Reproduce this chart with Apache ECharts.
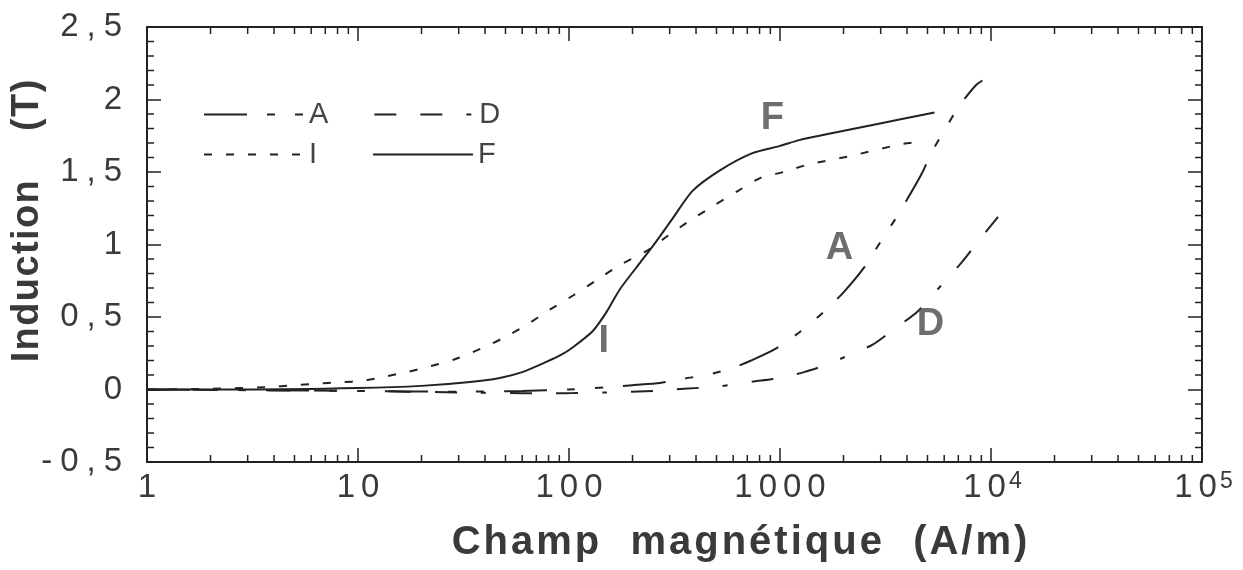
<!DOCTYPE html>
<html>
<head>
<meta charset="utf-8">
<title>Induction</title>
<script src="https://cdn.jsdelivr.net/npm/echarts@6/dist/echarts.min.js"></script>
<style>
html, body { margin: 0; padding: 0; background: #fff; }
#main { width: 1243px; height: 570px; }
</style>
</head>
<body>
<div id="main"></div>
<script>
// courbes B(H) (H en A/m, B en T)
var aH = [1, 10, 30, 60, 100, 150, 200, 270, 350, 450, 600, 730, 950, 1250, 1600, 2000, 2500, 3000, 3500, 4000, 4700, 5300, 6200, 7100, 8500, 9100];
var aB = [0, -0.01, -0.015, -0.01, 0, 0.015, 0.03, 0.045, 0.075, 0.10, 0.15, 0.20, 0.28, 0.40, 0.53, 0.67, 0.84, 1.02, 1.17, 1.31, 1.49, 1.65, 1.82, 1.96, 2.10, 2.13];

var dH = [1, 10, 30, 60, 100, 150, 250, 350, 500, 750, 1000, 1300, 1650, 2150, 2750, 3500, 4500, 5900, 7300, 8900, 10800];
var dB = [0, -0.01, -0.02, -0.025, -0.025, -0.02, -0.01, 0.005, 0.02, 0.055, 0.08, 0.12, 0.17, 0.24, 0.31, 0.42, 0.54, 0.73, 0.88, 1.04, 1.19];

var iH = [1, 2, 3.75, 5, 6.3, 8.3, 10.5, 13.5, 17, 22, 29, 38, 48, 62, 81, 105, 137, 175, 236, 294, 379, 487, 633, 809, 1040, 1350, 2150, 3700, 4650];
var iB = [0, 0.005, 0.017, 0.03, 0.04, 0.05, 0.06, 0.09, 0.12, 0.16, 0.21, 0.28, 0.35, 0.44, 0.55, 0.65, 0.76, 0.86, 0.96, 1.06, 1.17, 1.27, 1.37, 1.46, 1.50, 1.55, 1.61, 1.69, 1.71];

var fH = [1, 3, 10, 20, 33, 47, 60, 78, 92, 104, 129, 150, 174, 216, 250, 310, 385, 517, 740, 1000, 1230, 1660, 2860, 5400];
var fB = [0, 0, 0.01, 0.025, 0.05, 0.08, 0.12, 0.19, 0.24, 0.29, 0.40, 0.53, 0.69, 0.87, 0.99, 1.18, 1.37, 1.51, 1.63, 1.68, 1.72, 1.76, 1.83, 1.91];

// lettres posées sur les courbes
var tagNames = ['F', 'I', 'A', 'D'];
var tagH = [921, 146, 1914, 5166];
var tagB = [1.87, 0.33, 0.97, 0.45];

// graduations
var xMin = 1, xMax = 100000;
var yMin = -0.5, yMax = 2.5;
var xDecades = [1, 10, 100, 1000, 10000, 100000];
var xMinorSteps = [2, 3, 4, 5, 6, 7, 8, 9];
var yMinor = [-0.4, -0.3, -0.2, -0.1, 0.1, 0.2, 0.3, 0.4, 0.6, 0.7, 0.8, 0.9, 1.1, 1.2, 1.3, 1.4,
              1.6, 1.7, 1.8, 1.9, 2.1, 2.2, 2.3, 2.4];

var ink = '#222';
var textColor = '#3a3a3a';
var font = '"Liberation Sans", Arial, Helvetica, sans-serif';

function pairs(h, b) {
    return h.map(function (v, i) { return [v, b[i]]; });
}

// chaque caractère dans son bloc rich, pour espacer les lettres
function spaced(str, style) {
    return str.split('').map(function (c) {
        return '{' + style + '|' + c + '}';
    }).join('');
}

var xMinor = [];
xDecades.slice(0, -1).forEach(function (d) {
    xMinorSteps.forEach(function (k) { xMinor.push(d * k); });
});

function xLabel(v) {
    var e = Math.round(Math.log(v) / Math.LN10);
    if (e < 4) {
        return spaced('1' + '000'.slice(0, e), 'd');
    }
    return spaced('10', 'd') + '{sup|' + e + '}';
}

function yLabel(v) {
    var s = String(Math.round(v * 10) / 10).replace('.', ',');
    return spaced(s, 'd');
}

function tickLine(x1, y1, x2, y2) {
    return {
        type: 'line',
        shape: { x1: x1, y1: y1, x2: x2, y2: y2 },
        style: { stroke: ink, lineWidth: 1.5 }
    };
}

function xAxisBase(pos) {
    return {
        type: 'log',
        logBase: 10,
        min: xMin,
        max: xMax,
        position: pos,
        axisLine: { show: true, onZero: false, lineStyle: { color: ink, width: 2 } },
        splitLine: { show: false },
        axisLabel: { show: false },
        axisTick: { show: true, inside: true, length: 14, lineStyle: { color: ink, width: 1.5 } }
    };
}

function yAxisBase(pos) {
    return {
        type: 'value',
        min: yMin,
        max: yMax,
        interval: 0.5,
        position: pos,
        axisLine: { show: true, onZero: false, lineStyle: { color: ink, width: 2 } },
        splitLine: { show: false },
        axisLabel: { show: false },
        axisTick: { show: true, inside: true, length: 14, lineStyle: { color: ink, width: 1.5 } }
    };
}

var xMain = xAxisBase('bottom');
xMain.axisLabel = {
    show: true,
    margin: 8,
    formatter: xLabel,
    color: textColor,
    fontSize: 33,
    rich: {
        d: { fontSize: 33, padding: [0, 3], color: textColor, lineHeight: 36 },
        sup: { fontSize: 23, color: textColor, verticalAlign: 'top', lineHeight: 24 }
    }
};
xMain.name = spaced('Champ  magnétique  (A/m)', 'n');
xMain.nameLocation = 'middle';
xMain.nameMoveOverlap = false;
xMain.nameGap = 61;
xMain.nameTextStyle = {
    padding: [0, 0, 0, 130],
    rich: { n: { fontSize: 40, fontWeight: 'bold', color: textColor, padding: [0, 1.5] } }
};

var yMain = yAxisBase('left');
yMain.axisLabel = {
    show: true,
    margin: 21,
    formatter: yLabel,
    color: textColor,
    fontSize: 33,
    rich: { d: { fontSize: 33, padding: [0, 4], color: textColor } }
};
yMain.name = spaced('Induction    (T)', 'm');
yMain.nameLocation = 'middle';
yMain.nameMoveOverlap = false;
yMain.nameGap = 100;
yMain.nameRotate = 90;
yMain.nameTextStyle = {
    padding: [0, 0, 0, 47],
    rich: { m: { fontSize: 38, fontWeight: 'bold', color: textColor, padding: [0, 0.7] } }
};

function curve(name, h, b, dash) {
    return {
        type: 'line',
        name: name,
        data: pairs(h, b),
        symbol: 'none',
        smooth: 0.25,
        itemStyle: { color: ink },
        lineStyle: { color: ink, width: 2, type: dash },
        z: 3
    };
}

var legendBase = {
    padding: 0,
    itemWidth: 100,
    itemHeight: 14,
    selectedMode: false,
    itemStyle: { opacity: 0 },
    textStyle: { fontSize: 29, color: '#444', width: 25 }
};

var chart = echarts.init(document.getElementById('main'));
var option = {
    animation: false,
    backgroundColor: '#fff',
    textStyle: { fontFamily: font },
    grid: { left: 147, right: 41, top: 27, bottom: 108, outerBoundsMode: 'none', containLabel: false },
    legend: [
        echarts.util.extend({ data: ['A', 'D'], left: 203, top: 100, itemGap: 45 }, legendBase),
        echarts.util.extend({ data: ['I', 'F'], left: 203, top: 140, itemGap: 55 }, legendBase)
    ],
    xAxis: [xMain, xAxisBase('top')],
    yAxis: [yMain, yAxisBase('right')],
    series: [
        curve('A', aH, aB, [43, 20, 8, 20, 8, 20]),
        curve('D', dH, dB, [22, 24, 22, 24, 5, 24]),
        curve('I', iH, iB, [8, 14]),
        curve('F', fH, fB, 'solid'),
        {
            // petites graduations de l'axe log (haut et bas)
            type: 'custom',
            name: 'xminor',
            silent: true,
            clip: false,
            z: 4,
            data: xMinor.map(function (v) { return [v, yMin]; }),
            renderItem: function (params, api) {
                var b = api.coord([api.value(0), yMin]);
                var t = api.coord([api.value(0), yMax]);
                return {
                    type: 'group',
                    children: [tickLine(b[0], b[1], b[0], b[1] - 7), tickLine(t[0], t[1], t[0], t[1] + 7)]
                };
            }
        },
        {
            // petites graduations de l'axe des inductions (gauche et droite)
            type: 'custom',
            name: 'yminor',
            silent: true,
            clip: false,
            z: 4,
            data: yMinor.map(function (v) { return [xMin, v]; }),
            renderItem: function (params, api) {
                var l = api.coord([xMin, api.value(1)]);
                var r = api.coord([xMax, api.value(1)]);
                return {
                    type: 'group',
                    children: [tickLine(l[0], l[1], l[0] + 7, l[1]), tickLine(r[0], r[1], r[0] - 7, r[1])]
                };
            }
        },
        {
            type: 'scatter',
            name: 'tags',
            silent: true,
            symbolSize: 1,
            itemStyle: { color: 'rgba(0,0,0,0)' },
            data: tagNames.map(function (n, i) {
                return { name: n, value: [tagH[i], tagB[i]] };
            }),
            label: {
                show: true,
                position: 'inside',
                formatter: '{b}',
                fontSize: 38,
                fontWeight: 'bold',
                color: '#4a4a4a'
            },
            z: 5
        }
    ]
};
chart.setOption(option);
</script>
</body>
</html>
